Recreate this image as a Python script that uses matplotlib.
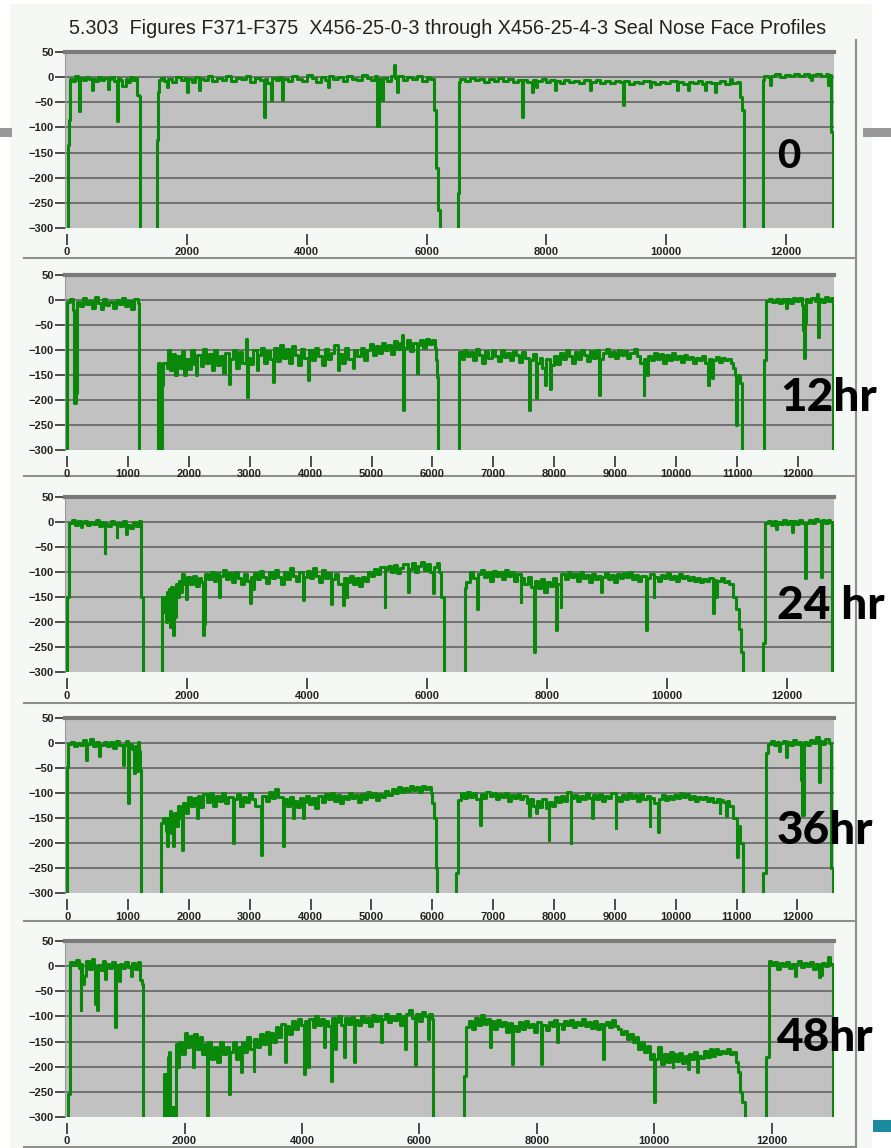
import matplotlib
matplotlib.use("Agg")
import matplotlib.pyplot as plt
from matplotlib.patches import Rectangle
from matplotlib.lines import Line2D

W, H = 891, 1148
GREEN = "#0a880a"
PANEL_FACE = "#c0c1c0"
GRID = "#707070"
FRAME = "#8f8f8f"
BG = "#f5f9f6"

TITLE = ("5.303  Figures F371-F375  X456-25-0-3 through "
         "X456-25-4-3 Seal Nose Face Profiles")

labels = ["0", "12hr", "24 hr", "36hr", "48hr"]
y_ticks = [50, 0, -50, -100, -150, -200, -250, -300]
x_ticks = [
    [0, 2000, 4000, 6000, 8000, 10000, 12000],
    list(range(0, 12001, 1000)),
    [0, 2000, 4000, 6000, 8000, 10000, 12000],
    list(range(0, 12001, 1000)),
    [0, 2000, 4000, 6000, 8000, 10000, 12000],
]
x_limits = [(-35, 12800), (-30, 12590), (-35, 12790), (-35, 12600), (-35, 13060)]

# profile readings (position, depth) -- steps between samples;
# -300 marks readings that are off the bottom of the scale
profile_0hr = [
    (0, -300), (10, -135), (25, -85), (45, -3), (90, -8), (140, 2), (190, -5), (200, -68), (215, -2),
    (260, -6), (310, 1), (360, -4), (413, -25), (425, -3), (470, -8), (520, 0), (570, -6), (620, -2),
    (690, -24), (700, -4), (740, 1), (790, -7), (830, -88), (845, -2), (880, -5), (920, -18), (975, -4),
    (1000, -9), (1050, 0), (1100, -6), (1140, -2), (1165, -35), (1205, -38), (1215, -300),
    (1500, -125), (1515, -30), (1535, -5), (1560, -2), (1620, -7), (1670, -20), (1685, -3), (1750, -9),
    (1820, 1), (1900, -5), (1960, -2), (2000, -30), (2015, -4), (2080, -10), (2140, 0), (2200, -25),
    (2215, -3), (2280, -6), (2350, 2), (2420, -8), (2500, -1), (2580, -5), (2660, 3), (2740, -7),
    (2820, -2), (2900, -4), (2980, 2), (3060, -9), (3140, -1), (3220, -6), (3285, -80), (3300, -4),
    (3340, -12), (3410, -45), (3425, -2), (3480, -6), (3540, 1), (3590, -45), (3605, -4), (3680, -8),
    (3760, 2), (3840, -3), (3920, -7), (4000, 4), (4080, -2), (4160, -9), (4240, 1), (4300, -5),
    (4350, -20), (4365, 3), (4440, -4), (4520, 0), (4600, -7), (4680, 2), (4760, -3), (4840, -6),
    (4920, 4), (5000, -1), (5080, -5), (5140, 2), (5180, -97), (5200, -4), (5260, -45), (5275, -2),
    (5340, -8), (5400, 3), (5460, 25), (5475, -1), (5510, -30), (5525, 2), (5600, -6), (5680, 1),
    (5760, -4), (5840, 3), (5920, -7), (6000, 0), (6060, -3), (6130, -65), (6160, -180), (6190, -265),
    (6230, -300),
    (6517, -230), (6540, -10), (6560, -4), (6640, -8), (6720, -2), (6800, -6), (6880, -3), (6960, -9),
    (7040, -4), (7120, -7), (7200, -1), (7280, -8), (7360, -4), (7440, -10), (7520, -5), (7590, -80),
    (7605, -6), (7680, -9), (7760, -30), (7775, -5), (7830, -20), (7845, -8), (7920, -4), (8000, -10),
    (8060, -6), (8140, -25), (8155, -7), (8220, -11), (8300, -5), (8380, -9), (8460, -7), (8540, -12),
    (8620, -6), (8725, -25), (8740, -9), (8820, -6), (8900, -11), (8980, -8), (9060, -12), (9140, -7),
    (9220, -10), (9280, -55), (9295, -8), (9380, -13), (9460, -9), (9540, -12), (9620, -7), (9730, -20),
    (9745, -10), (9820, -13), (9900, -9), (9980, -12), (10060, -8), (10180, -25), (10195, -10),
    (10280, -13), (10360, -25), (10375, -9), (10450, -12), (10530, -8), (10600, -13), (10650, -25),
    (10665, -10), (10740, -12), (10820, -30), (10835, -11), (10900, -7), (10980, -13), (11060, -3),
    (11100, -12), (11180, -10), (11230, -40), (11260, -65), (11300, -300),
    (11615, -5), (11640, 3), (11700, 0), (11740, -15), (11755, 2), (11820, 6), (11900, 1), (11980, 5),
    (12060, 2), (12140, 7), (12220, 3), (12300, 6), (12380, 1), (12410, -5), (12425, 4), (12500, 7),
    (12580, 2), (12660, 6), (12700, -15), (12712, 5), (12745, -110), (12790, -300), (12800, -300),
]

profile_12hr = [
    (0, -300), (8, -3), (50, 2), (100, -20), (110, -205), (150, -185), (165, -3), (210, -12), (260, 4),
    (310, -8), (360, -2), (410, -15), (460, 6), (510, -5), (560, -18), (600, 2), (650, -10), (700, -3),
    (760, -16), (810, 1), (860, -8), (910, 4), (960, -12), (1010, -2), (1060, -17), (1110, 3),
    (1160, -6), (1185, -300),
    (1490, -125), (1530, -130), (1540, -300), (1565, -170), (1585, -125), (1640, -135), (1660, -100),
    (1700, -140), (1740, -108), (1780, -150), (1800, -112), (1850, -135), (1890, -102), (1930, -150),
    (1950, -118), (2000, -138), (2040, -100), (2080, -128), (2120, -150), (2140, -110), (2200, -132),
    (2240, -98), (2290, -125), (2330, -108), (2380, -140), (2420, -100), (2470, -130), (2520, -112),
    (2570, -145), (2600, -105), (2665, -167), (2680, -118), (2730, -100), (2780, -135), (2830, -104),
    (2880, -125), (2940, -78), (2950, -193), (2965, -115), (3010, -128), (3060, -100), (3115, -140),
    (3130, -110), (3180, -95), (3230, -125), (3280, -102), (3330, -118), (3390, -163), (3405, -96),
    (3450, -122), (3500, -90), (3550, -115), (3600, -98), (3650, -125), (3700, -92), (3750, -110),
    (3800, -130), (3850, -97), (3900, -115), (3965, -160), (3980, -100), (4030, -120), (4080, -95),
    (4130, -112), (4180, -130), (4230, -98), (4280, -118), (4330, -105), (4380, -90), (4455, -140),
    (4470, -108), (4520, -125), (4570, -96), (4620, -118), (4700, -135), (4715, -100), (4770, -112),
    (4820, -95), (4870, -120), (4920, -100), (4970, -88), (5020, -110), (5070, -92), (5120, -105),
    (5170, -85), (5220, -100), (5270, -90), (5320, -108), (5370, -82), (5420, -98), (5470, -86),
    (5500, -70), (5520, -220), (5535, -95), (5580, -80), (5630, -102), (5680, -85), (5740, -145),
    (5755, -90), (5800, -80), (5850, -95), (5900, -78), (5950, -88), (6000, -80), (6040, -95),
    (6060, -120), (6075, -153), (6090, -300),
    (6440, -103), (6480, -118), (6520, -100), (6570, -112), (6620, -104), (6670, -120), (6720, -98),
    (6770, -110), (6820, -125), (6870, -102), (6920, -115), (6970, -100), (7020, -112), (7070, -122),
    (7120, -100), (7170, -114), (7220, -105), (7270, -120), (7320, -101), (7370, -110), (7420, -124),
    (7470, -104), (7520, -115), (7590, -220), (7605, -120), (7650, -108), (7695, -195), (7710, -125),
    (7760, -115), (7800, -135), (7850, -170), (7865, -118), (7925, -177), (7940, -130), (7990, -112),
    (8040, -128), (8090, -105), (8140, -118), (8190, -100), (8240, -112), (8290, -125), (8340, -104),
    (8390, -118), (8440, -100), (8490, -110), (8540, -122), (8590, -102), (8640, -115), (8690, -100),
    (8740, -190), (8755, -118), (8800, -106), (8850, -98), (8900, -112), (8950, -104), (9000, -116),
    (9050, -100), (9100, -110), (9150, -102), (9200, -115), (9250, -105), (9300, -98), (9350, -112),
    (9400, -125), (9465, -190), (9480, -118), (9520, -150), (9535, -112), (9580, -120), (9630, -105),
    (9680, -118), (9730, -108), (9780, -125), (9830, -110), (9880, -120), (9930, -106), (9980, -118),
    (10030, -112), (10080, -124), (10130, -110), (10180, -118), (10230, -114), (10280, -125),
    (10330, -115), (10380, -120), (10430, -112), (10480, -125), (10530, -170), (10545, -118),
    (10590, -155), (10605, -120), (10650, -114), (10700, -124), (10750, -116), (10800, -120),
    (10850, -118), (10900, -125), (10940, -135), (10960, -150), (10985, -250), (11000, -150),
    (11040, -165), (11080, -300),
    (11445, -120), (11480, -2), (11530, 3), (11580, -4), (11630, 2), (11680, -6), (11730, 3),
    (11780, -3), (11810, -15), (11825, 2), (11870, -5), (11920, 4), (11970, -2), (12020, 5),
    (12060, -10), (12075, -60), (12090, -115), (12110, -45), (12125, 2), (12170, -4), (12220, 5),
    (12270, -2), (12310, 13), (12330, -73), (12345, 3), (12390, -3), (12440, 6), (12490, -2),
    (12540, 4), (12570, -300), (12590, -300),
]

profile_24hr = [
    (0, -300), (5, -150), (30, -2), (80, 3), (130, -6), (180, 1), (230, -10), (245, -3), (290, 2),
    (340, -7), (390, 0), (440, -5), (490, 3), (540, -8), (590, -1), (628, -63), (640, -4), (690, -9),
    (740, 2), (790, -5), (825, -30), (840, -2), (890, -8), (940, 1), (990, -25), (1005, -6),
    (1050, -12), (1100, 0), (1150, -8), (1200, 2), (1240, -150), (1270, -300),
    (1590, -150), (1610, -180), (1625, -150), (1650, -200), (1665, -140), (1690, -175), (1700, -135),
    (1720, -210), (1735, -130), (1760, -227), (1775, -150), (1800, -190), (1815, -125), (1840, -150),
    (1860, -118), (1890, -140), (1910, -105), (1950, -125), (1990, -155), (2005, -110), (2050, -125),
    (2100, -108), (2150, -128), (2200, -112), (2240, -120), (2267, -227), (2285, -205), (2300, -105),
    (2350, -115), (2400, -100), (2450, -118), (2490, -102), (2530, -150), (2545, -108), (2600, -96),
    (2650, -115), (2700, -102), (2750, -120), (2800, -100), (2850, -112), (2900, -125), (2950, -104),
    (3000, -118), (3045, -163), (3060, -110), (3100, -135), (3115, -102), (3160, -115), (3210, -98),
    (3260, -110), (3310, -122), (3360, -100), (3410, -112), (3460, -96), (3510, -110), (3560, -125),
    (3610, -100), (3660, -115), (3710, -92), (3760, -108), (3810, -118), (3860, -100), (3935, -157),
    (3950, -110), (4000, -98), (4050, -112), (4100, -92), (4150, -108), (4200, -120), (4250, -96),
    (4300, -112), (4350, -102), (4405, -165), (4420, -115), (4470, -105), (4520, -125), (4600, -167),
    (4615, -112), (4660, -150), (4675, -120), (4720, -108), (4770, -125), (4820, -112), (4870, -128),
    (4920, -110), (4970, -118), (5020, -100), (5070, -108), (5120, -95), (5170, -104), (5220, -90),
    (5295, -170), (5310, -95), (5360, -88), (5410, -100), (5460, -86), (5510, -102), (5560, -92),
    (5610, -85), (5683, -140), (5700, -95), (5750, -82), (5800, -100), (5850, -88), (5900, -80),
    (5950, -96), (6000, -84), (6050, -100), (6100, -143), (6115, -90), (6170, -82), (6210, -100),
    (6240, -150), (6280, -300),
    (6628, -133), (6660, -120), (6720, -100), (6770, -112), (6833, -175), (6848, -104), (6900, -96),
    (6950, -110), (7000, -100), (7050, -118), (7100, -98), (7150, -108), (7200, -100), (7250, -115),
    (7300, -96), (7350, -108), (7400, -100), (7450, -118), (7500, -104), (7562, -160), (7578, -112),
    (7620, -125), (7680, -110), (7730, -130), (7783, -260), (7800, -118), (7850, -132), (7900, -115),
    (7950, -140), (8000, -120), (8050, -128), (8100, -112), (8156, -217), (8172, -125), (8230, -170),
    (8245, -105), (8300, -115), (8350, -100), (8400, -110), (8450, -104), (8500, -118), (8550, -100),
    (8600, -112), (8650, -106), (8700, -120), (8750, -104), (8800, -115), (8850, -108), (8907, -140),
    (8922, -110), (8970, -102), (9020, -115), (9070, -106), (9120, -120), (9170, -104), (9220, -112),
    (9270, -102), (9320, -110), (9370, -100), (9420, -114), (9470, -106), (9520, -118), (9570, -108),
    (9657, -217), (9672, -112), (9720, -104), (9780, -150), (9795, -110), (9850, -118), (9900, -106),
    (9950, -112), (10000, -102), (10050, -115), (10100, -108), (10150, -118), (10200, -104),
    (10250, -112), (10300, -108), (10350, -116), (10400, -110), (10450, -118), (10500, -112),
    (10550, -120), (10600, -114), (10650, -118), (10700, -112), (10767, -183), (10782, -116),
    (10830, -150), (10845, -118), (10900, -112), (10960, -120), (11000, -118), (11045, -125),
    (11100, -150), (11160, -175), (11200, -215), (11240, -260), (11270, -300),
    (11600, -243), (11640, -3), (11690, 2), (11740, -6), (11790, 1), (11830, -15), (11845, -1),
    (11890, -5), (11940, 3), (11990, -4), (12040, 2), (12090, -20), (12105, 1), (12150, -5),
    (12200, 3), (12250, -2), (12300, -40), (12312, -113), (12330, -2), (12380, 4), (12430, -3),
    (12480, 5), (12530, 1), (12573, -110), (12590, 3), (12640, -2), (12690, 4), (12730, -1),
    (12757, -300), (12790, -300),
]

profile_36hr = [
    (0, -300), (5, -47), (15, -2), (60, 3), (110, -6), (160, 1), (210, -4), (260, 6), (318, -33),
    (330, -2), (380, 8), (430, -5), (480, 2), (530, -25), (545, -3), (600, 3), (650, -6), (700, 2),
    (750, -9), (800, 4), (850, -3), (910, -43), (930, -3), (970, 5), (1002, -120), (1015, -2),
    (1060, -12), (1095, -60), (1110, -5), (1150, -55), (1165, 2), (1185, -15), (1205, -53),
    (1220, -300),
    (1540, -160), (1580, -150), (1620, -175), (1640, -205), (1655, -150), (1690, -135), (1710, -180),
    (1740, -205), (1755, -140), (1790, -165), (1820, -125), (1860, -150), (1895, -213), (1910, -120),
    (1950, -140), (1990, -108), (2040, -125), (2080, -110), (2130, -150), (2145, -106), (2190, -128),
    (2240, -102), (2290, -118), (2340, -100), (2390, -125), (2440, -106), (2490, -115), (2540, -100),
    (2590, -120), (2640, -108), (2726, -200), (2740, -112), (2790, -102), (2840, -125), (2890, -108),
    (2940, -118), (2990, -100), (3040, -112), (3090, -125), (3180, -223), (3195, -190), (3210, -105),
    (3260, -115), (3310, -98), (3360, -110), (3410, -92), (3460, -108), (3547, -205), (3560, -112),
    (3610, -125), (3660, -108), (3710, -150), (3725, -115), (3770, -128), (3820, -110), (3870, -150),
    (3885, -118), (3930, -105), (3980, -122), (4030, -110), (4080, -130), (4130, -106), (4180, -118),
    (4230, -102), (4280, -112), (4330, -100), (4380, -115), (4430, -104), (4480, -120), (4530, -106),
    (4580, -112), (4630, -100), (4680, -110), (4730, -104), (4780, -118), (4830, -102), (4880, -112),
    (4930, -98), (4980, -108), (5030, -100), (5080, -114), (5130, -102), (5180, -108), (5230, -96),
    (5280, -104), (5330, -92), (5380, -100), (5430, -88), (5480, -98), (5530, -90), (5580, -96),
    (5630, -86), (5680, -94), (5730, -88), (5780, -98), (5830, -86), (5880, -92), (5930, -88),
    (5980, -100), (6000, -120), (6020, -150), (6060, -250), (6085, -300),
    (6395, -260), (6430, -113), (6470, -100), (6520, -110), (6570, -98), (6620, -108), (6670, -100),
    (6720, -112), (6777, -163), (6792, -102), (6840, -110), (6890, -98), (6940, -106), (6990, -100),
    (7040, -112), (7090, -102), (7140, -108), (7190, -100), (7240, -115), (7290, -104), (7340, -110),
    (7390, -102), (7440, -112), (7490, -106), (7550, -120), (7586, -145), (7600, -112), (7650, -125),
    (7700, -140), (7715, -115), (7760, -128), (7810, -112), (7860, -130), (7910, -193), (7925, -118),
    (7970, -125), (8020, -108), (8070, -118), (8120, -106), (8170, -115), (8220, -98), (8271, -200),
    (8285, -110), (8330, -104), (8380, -115), (8430, -106), (8480, -112), (8530, -100), (8580, -110),
    (8630, -150), (8645, -104), (8690, -112), (8740, -102), (8790, -115), (8840, -106), (8890, -110),
    (8940, -100), (9010, -170), (9025, -108), (9070, -115), (9120, -104), (9170, -112), (9220, -100),
    (9270, -110), (9320, -104), (9370, -116), (9420, -102), (9470, -112), (9520, -106), (9570, -165),
    (9585, -110), (9640, -120), (9705, -177), (9720, -112), (9770, -104), (9820, -114), (9870, -106),
    (9920, -112), (9970, -104), (10020, -110), (10070, -100), (10120, -108), (10170, -102),
    (10220, -112), (10270, -106), (10320, -115), (10370, -108), (10420, -112), (10470, -108),
    (10520, -115), (10570, -110), (10620, -118), (10670, -112), (10720, -140), (10735, -114),
    (10780, -118), (10830, -145), (10845, -115), (10882, -125), (10940, -150), (11000, -227),
    (11015, -165), (11060, -200), (11110, -300),
    (11430, -260), (11475, -20), (11510, -2), (11560, 4), (11610, -3), (11660, 2), (11700, -15),
    (11715, 1), (11760, 5), (11810, -27), (11825, 2), (11870, -4), (11920, 6), (11970, -2),
    (12030, 3), (12060, -73), (12080, -143), (12100, -75), (12115, 2), (12160, -3), (12210, 6),
    (12260, 1), (12310, 13), (12348, -77), (12362, 4), (12410, -2), (12460, 8), (12510, 1),
    (12552, -250), (12590, -300), (12600, -300),
]

profile_48hr = [
    (0, -300), (15, -255), (58, 8), (100, 2), (150, 12), (200, -3), (229, -88), (245, 5), (260, -35),
    (290, -20), (330, 10), (380, -5), (420, 15), (460, 3), (480, -75), (502, -88), (520, 2),
    (570, -8), (620, 10), (650, -25), (670, 4), (720, -3), (770, 8), (814, -121), (830, 2),
    (880, -30), (895, 5), (940, -4), (990, 9), (1040, -2), (1090, -20), (1105, 6), (1150, -5),
    (1200, 8), (1250, -28), (1270, -35), (1285, -300),
    (1655, -215), (1690, -300), (1720, -180), (1735, -170), (1760, -300), (1790, -280), (1820, -300),
    (1850, -155), (1880, -200), (1900, -150), (1950, -175), (2000, -132), (2050, -160), (2100, -138),
    (2150, -200), (2165, -135), (2210, -165), (2260, -140), (2300, -175), (2350, -155), (2390, -300),
    (2405, -150), (2450, -185), (2500, -160), (2550, -190), (2600, -150), (2650, -175), (2700, -160),
    (2765, -255), (2780, -170), (2830, -150), (2880, -185), (2930, -160), (2960, -210), (2975, -150),
    (3020, -170), (3070, -140), (3120, -165), (3175, -208), (3190, -145), (3240, -160), (3290, -135),
    (3340, -155), (3390, -130), (3440, -175), (3455, -132), (3500, -150), (3550, -122), (3600, -140),
    (3650, -115), (3715, -191), (3730, -120), (3780, -135), (3830, -110), (3880, -125), (3930, -105),
    (3980, -118), (4027, -215), (4045, -110), (4110, -200), (4125, -105), (4180, -122), (4230, -100),
    (4280, -118), (4330, -106), (4380, -160), (4395, -110), (4450, -120), (4500, -228), (4515, -104),
    (4560, -165), (4575, -112), (4620, -100), (4670, -118), (4720, -180), (4735, -104), (4790, -115),
    (4840, -102), (4880, -191), (4895, -108), (4950, -118), (5000, -100), (5050, -112), (5100, -104),
    (5150, -120), (5200, -98), (5250, -110), (5300, -100), (5350, -150), (5365, -106), (5420, -96),
    (5470, -112), (5520, -100), (5570, -108), (5620, -95), (5670, -118), (5720, -100), (5760, -165),
    (5775, -96), (5820, -88), (5870, -104), (5933, -196), (5948, -95), (6000, -110), (6050, -92),
    (6100, -100), (6150, -145), (6165, -96), (6210, -105), (6235, -300),
    (6757, -218), (6800, -121), (6850, -110), (6900, -125), (6950, -104), (7000, -118), (7050, -98),
    (7100, -115), (7150, -106), (7200, -161), (7215, -110), (7270, -125), (7320, -108), (7370, -120),
    (7420, -112), (7470, -130), (7520, -114), (7584, -195), (7600, -120), (7650, -128), (7700, -112),
    (7750, -125), (7800, -110), (7850, -122), (7900, -115), (7950, -130), (8000, -112), (8078, -195),
    (8095, -118), (8150, -126), (8200, -112), (8250, -120), (8300, -108), (8350, -150), (8365, -115),
    (8420, -125), (8470, -110), (8520, -118), (8570, -108), (8620, -122), (8670, -112), (8720, -118),
    (8770, -106), (8820, -120), (8870, -112), (8920, -124), (8970, -110), (9020, -125), (9070, -115),
    (9120, -185), (9135, -118), (9180, -112), (9230, -122), (9280, -108), (9330, -120), (9380, -125),
    (9430, -135), (9480, -128), (9530, -145), (9580, -135), (9630, -150), (9680, -140), (9730, -165),
    (9780, -150), (9830, -170), (9880, -158), (9930, -185), (9960, -175), (10000, -270),
    (10015, -185), (10060, -160), (10110, -195), (10160, -175), (10210, -190), (10260, -170),
    (10310, -200), (10325, -175), (10370, -188), (10420, -172), (10470, -192), (10520, -178),
    (10570, -205), (10585, -175), (10630, -185), (10680, -170), (10730, -210), (10745, -178),
    (10790, -182), (10840, -168), (10890, -180), (10940, -165), (10990, -178), (11040, -165),
    (11090, -175), (11140, -168), (11190, -172), (11240, -165), (11290, -175), (11338, -170),
    (11390, -190), (11430, -210), (11460, -250), (11500, -270), (11548, -300),
    (11906, -181), (11945, 10), (11990, 3), (12040, 8), (12090, -5), (12140, 6), (12190, 0),
    (12240, 9), (12290, -3), (12340, 5), (12390, -20), (12405, 4), (12450, 10), (12500, -2),
    (12550, 7), (12600, 1), (12650, 9), (12700, -5), (12750, 4), (12800, -22), (12830, -18),
    (12860, 6), (12910, 1), (12960, 18), (12990, 5), (13040, -300), (13060, -300),
]

profiles = [profile_0hr, profile_12hr, profile_24hr, profile_36hr, profile_48hr]

# pixel geometry of the five plot areas (top, bottom)
panel_rows = [(52, 228), (275, 450), (497, 672), (718, 893), (941, 1117)]
label_pos = [(777, 157), (780, 398), (777, 606), (777, 831), (777, 1038)]
label_size = [29, 33, 33, 33, 33]
separators = [258, 476, 703, 921, 1147]


def fx(px):
    return px / W


def fy(py):
    return 1 - py / H


fig = plt.figure(figsize=(W / 100, H / 100), dpi=100)
fig.patch.set_facecolor("white")

# light page background and frame (behind the axes)
fig.patches.append(Rectangle((fx(10), 0), fx(862), fy(4), transform=fig.transFigure,
                             facecolor=BG, edgecolor="none", zorder=-5))
for sy in separators:
    fig.lines.append(Line2D([fx(24), fx(856)], [fy(sy), fy(sy)], transform=fig.transFigure,
                            color=FRAME, lw=1.5, zorder=-4))
fig.lines.append(Line2D([fx(856), fx(856)], [fy(40), 0], transform=fig.transFigure,
                        color=FRAME, lw=1.5, zorder=-4))
# slide decorations
fig.patches.append(Rectangle((0, fy(137)), fx(12), 9 / H, transform=fig.transFigure,
                             facecolor="#999999", edgecolor="none", zorder=-4))
fig.patches.append(Rectangle((fx(863), fy(137)), fx(28), 9 / H, transform=fig.transFigure,
                             facecolor="#999999", edgecolor="none", zorder=-4))
fig.patches.append(Rectangle((fx(873), fy(1132)), fx(18), 12 / H, transform=fig.transFigure,
                             facecolor="#1a8a9c", edgecolor="none", zorder=-4))

fig.text(fx(448), fy(29), TITLE, ha="center", va="center", fontsize=14.2,
         family="Liberation Sans", color="#222222")

for i, pts in enumerate(profiles):
    top, bot = panel_rows[i]
    ax = fig.add_axes([fx(65), fy(bot), fx(834 - 65), (bot - top) / H])
    ax.set_facecolor(PANEL_FACE)
    xs = [p[0] for p in pts]
    # off-scale readings sit just below the visible floor
    ys = [p[1] if p[1] > -300 else -330 for p in pts]
    for g in y_ticks[1:-1]:
        ax.axhline(g, color=GRID, lw=1.4, zorder=1)
    ax.plot(xs, ys, drawstyle="steps-post", color=GREEN, lw=2.2, zorder=3)
    ax.set_xlim(*x_limits[i])
    ax.set_ylim(-300, 50)
    ax.set_yticks(y_ticks)
    ax.set_xticks(x_ticks[i])
    ax.spines["top"].set_color("#7a7a7a")
    ax.spines["top"].set_linewidth(3)
    ax.spines["top"].set_zorder(5)
    ax.spines["right"].set_visible(False)
    ax.spines["left"].set_color("#9a9a9a")
    ax.spines["left"].set_linewidth(0.8)
    ax.spines["bottom"].set_position(("outward", 4))
    ax.spines["bottom"].set_visible(False)
    ax.tick_params(axis="y", direction="out", length=7, width=1.2, color="#303030",
                   labelsize=8, pad=1)
    ax.tick_params(axis="x", direction="out", length=8, width=1.2, color="#303030",
                   labelsize=8, pad=2)
    for t in ax.get_xticklabels() + ax.get_yticklabels():
        t.set_fontweight("bold")
        t.set_family("Liberation Sans")
        t.set_color("#222222")
    lx, ly = label_pos[i]
    fig.text(fx(lx), fy(ly), labels[i], ha="left", va="center", fontsize=label_size[i],
             family="Lato", fontweight="black", color="black", zorder=10)

fig.savefig("out.png", dpi=100)
